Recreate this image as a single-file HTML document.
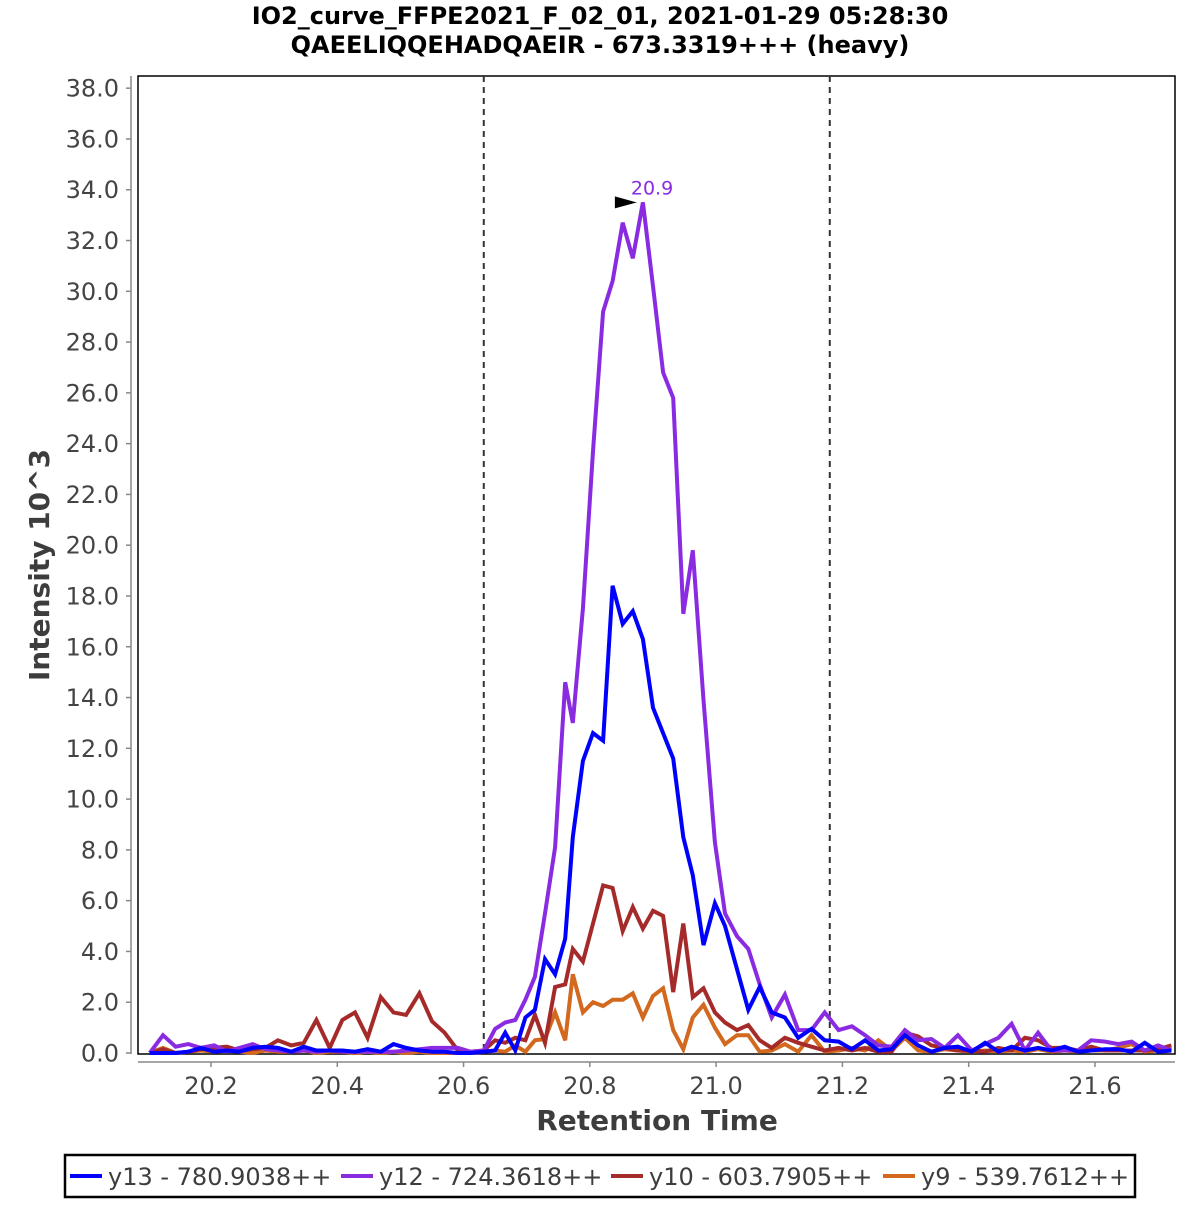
<!DOCTYPE html>
<html><head><meta charset="utf-8"><style>
html,body{margin:0;padding:0;background:#fff;}
body{width:1200px;height:1200px;overflow:hidden;font-family:"Liberation Sans","DejaVu Sans",sans-serif;}
svg text{font-family:"DejaVu Sans","Liberation Sans",sans-serif;}
</style></head><body>
<svg id="chart" width="1200" height="1200" viewBox="0 0 1200 1200" xmlns="http://www.w3.org/2000/svg">
<rect width="1200" height="1200" fill="#fff"/>
<text x="600" y="24" text-anchor="middle" font-size="24" font-weight="bold" fill="#000">IO2_curve_FFPE2021_F_02_01, 2021-01-29 05:28:30</text>
<text x="600" y="53" text-anchor="middle" font-size="24" font-weight="bold" fill="#000">QAEELIQQEHADQAEIR - 673.3319+++ (heavy)</text>
<rect x="138" y="76" width="1037" height="978" fill="#fff" stroke="#000" stroke-width="1.5"/>
<g id="axes"></g>
<g id="series"></g>
<text transform="translate(49,565) rotate(-90)" text-anchor="middle" font-size="28" font-weight="bold" fill="#3d3d3d">Intensity 10^3</text>
<text x="657" y="1130" text-anchor="middle" font-size="28" font-weight="bold" fill="#3d3d3d">Retention Time</text>
<g>
<rect x="65" y="1155" width="1070" height="42" fill="#fff" stroke="#000" stroke-width="2.5"/>
<g><line x1="70" y1="1176" x2="102" y2="1176" stroke="#0000ff" stroke-width="4"/><text x="108" y="1185" font-size="24" fill="#3d3d3d">y13 - 780.9038++</text></g>
<g><line x1="341" y1="1176" x2="373" y2="1176" stroke="#8a2be2" stroke-width="4"/><text x="379" y="1185" font-size="24" fill="#3d3d3d">y12 - 724.3618++</text></g>
<g><line x1="611" y1="1176" x2="643" y2="1176" stroke="#a52a2a" stroke-width="4"/><text x="649" y="1185" font-size="24" fill="#3d3d3d">y10 - 603.7905++</text></g>
<g><line x1="883" y1="1176" x2="915" y2="1176" stroke="#d2691e" stroke-width="4"/><text x="921" y="1185" font-size="24" fill="#3d3d3d">y9 - 539.7612++</text></g>
</g>
</svg>
<script>
const times = [20.103,20.124,20.144,20.164,20.184,20.205,20.225,20.245,20.266,20.286,20.306,20.327,20.347,20.367,20.388,20.408,20.428,20.448,20.469,20.489,20.509,20.530,20.550,20.570,20.591,20.611,20.632,
20.650,20.666,20.682,20.698,20.713,20.729,20.745,20.761,20.773,20.789,20.805,20.821,20.836,20.852,20.868,20.884,20.900,20.916,20.932,20.948,20.963,20.980,20.998,21.014,21.033,21.051,21.069,
21.088,21.109,21.130,21.151,21.172,21.194,21.215,21.236,21.257,21.278,21.299,21.320,21.341,21.362,21.383,21.405,21.426,21.447,21.468,21.489,21.510,21.531,21.552,21.573,21.594,21.616,21.637,21.658,21.679,21.700,21.721];
const y13 = [0,0,0,0.05,0.2,0.05,0.1,0.05,0.2,0.25,0.2,0.05,0.25,0.1,0.1,0.1,0.05,0.15,0.05,0.35,0.2,0.1,0.05,0.05,0,0,0.05,
0.1,0.8,0.1,1.4,1.7,3.7,3.1,4.5,8.5,11.5,12.6,12.3,18.4,16.9,17.4,16.3,13.6,12.6,11.6,8.5,7.0,4.25,5.9,5.0,3.3,1.7,2.6,
1.6,1.4,0.6,0.95,0.5,0.45,0.15,0.5,0.1,0.15,0.7,0.3,0.05,0.2,0.25,0.05,0.4,0.05,0.25,0.1,0.2,0.1,0.25,0.05,0.1,0.15,0.15,0.05,0.4,0.05,0.1];
const y12 = [0,0.7,0.25,0.35,0.2,0.3,0.05,0.2,0.35,0.15,0.1,0.05,0.1,0.05,0.1,0.05,0.05,0.05,0.05,0.05,0.1,0.15,0.2,0.2,0.2,0.05,0.1,
0.95,1.2,1.3,2.1,3.0,5.5,8.1,14.6,13.0,17.5,23.7,29.2,30.4,32.7,31.3,33.5,30.2,26.8,25.8,17.3,19.8,13.9,8.3,5.5,4.6,4.1,2.7,
1.4,2.3,0.9,0.9,1.6,0.9,1.05,0.7,0.3,0.25,0.9,0.5,0.55,0.2,0.7,0.1,0.35,0.6,1.15,0.1,0.8,0.1,0.1,0.1,0.5,0.45,0.35,0.45,0.1,0.3,0.1];
const y10 = [0,0.15,0,0.05,0.15,0.2,0.25,0.1,0.15,0.2,0.5,0.3,0.4,1.3,0.2,1.3,1.6,0.6,2.2,1.6,1.5,2.35,1.25,0.8,0.1,0.05,0.1,
0.5,0.4,0.6,0.5,1.5,0.4,2.6,2.7,4.1,3.6,5.1,6.6,6.5,4.8,5.75,4.9,5.6,5.4,2.4,5.1,2.2,2.55,1.6,1.2,0.9,1.1,0.5,
0.2,0.6,0.4,0.25,0.1,0.2,0.1,0.2,0.05,0.05,0.8,0.65,0.3,0.2,0.1,0.1,0.05,0.2,0.1,0.6,0.5,0.2,0.2,0.1,0.25,0.1,0.1,0.1,0.1,0.15,0.3];
const y9 = [0,0.2,0,0.05,0.1,0.05,0.1,0.05,0,0.1,0.05,0.05,0.1,0,0.05,0.05,0,0.05,0,0.05,0,0.05,0,0,0,0,0.05,
0.1,0.05,0.3,0.05,0.5,0.55,1.6,0.5,3.1,1.6,2.0,1.85,2.1,2.1,2.35,1.4,2.25,2.55,0.9,0.15,1.4,1.9,1.0,0.35,0.7,0.7,0.05,
0.1,0.35,0.05,0.7,0.05,0.1,0.2,0.1,0.5,0.1,0.6,0.1,0.05,0.15,0.1,0.05,0.1,0.05,0.1,0.05,0.15,0.05,0.1,0.05,0.1,0.1,0.2,0.35,0.05,0.1,0.1];
const yTicks = [0,2,4,6,8,10,12,14,16,18,20,22,24,26,28,30,32,34,36,38];
const xTicks = [20.2,20.4,20.6,20.8,21.0,21.2,21.4,21.6];
const boundaries = [20.632,21.180];
const peakTime = 20.884, peakValue = 33.5, peakLabel = "20.9";

const NS="http://www.w3.org/2000/svg";
function xs(t){return 211+(t-20.2)*631.4;}
function ys(v){return 1053-v*25.39;}
function mk(tag,attrs,parent){const e=document.createElementNS(NS,tag);for(const k in attrs)e.setAttribute(k,attrs[k]);parent.appendChild(e);return e;}
const axes=document.getElementById('axes');
const ax=mk('line',{x1:131,y1:76,x2:131,y2:1054,stroke:'#888','stroke-width':1.5},axes);


yTicks.forEach(v=>{
  const y=ys(v);
  const tk=mk('line',{x1:126,y1:y,x2:131,y2:y,stroke:'#888','stroke-width':1.5},axes);
  
  
  const tx=mk('text',{x:119,y:y+8.5,'text-anchor':'end','font-size':24,fill:'#444'},axes);
  
  
  tx.textContent=v.toFixed(1);
});
const bx=mk('line',{x1:138,y1:1062,x2:1175,y2:1062,stroke:'#888','stroke-width':1.5},axes);


xTicks.forEach(t=>{
  const x=xs(t);
  const tk=mk('line',{x1:x,y1:1062,x2:x,y2:1067,stroke:'#888','stroke-width':1.5},axes);
  
  
  const tx=mk('text',{x:x,y:1094,'text-anchor':'middle','font-size':24,fill:'#444'},axes);
  
  
  tx.textContent=t.toFixed(1);
});
const sg=document.getElementById('series');
boundaries.forEach(t=>{
  const l=mk('line',{x1:xs(t),y1:76,x2:xs(t),y2:1054,stroke:'#333','stroke-width':2,'stroke-dasharray':'6,5'},sg);
  
  
});
const series=[['y9',y9,'#d2691e'],['y10',y10,'#a52a2a'],['y12',y12,'#8a2be2'],['y13',y13,'#0000ff']];
series.forEach(([n,vals,c])=>{
  const d=vals.map((v,i)=>(i?'L':'M')+xs(times[i]).toFixed(1)+','+ys(v).toFixed(1)).join(' ');
  const p=mk('path',{d:d,fill:'none',stroke:c,'stroke-width':4,'stroke-linejoin':'miter'},sg);
  
  
});
const px=xs(peakTime), py=ys(peakValue);
const tri=mk('polygon',{points:(px-28)+','+(py-6)+' '+(px-6)+','+py+' '+(px-28)+','+(py+6),fill:'#000'},sg);


const pl=mk('text',{x:px-12,y:py-8,'font-size':19,fill:'#8a2be2'},sg);


pl.textContent=peakLabel;
</script>
</body></html>
